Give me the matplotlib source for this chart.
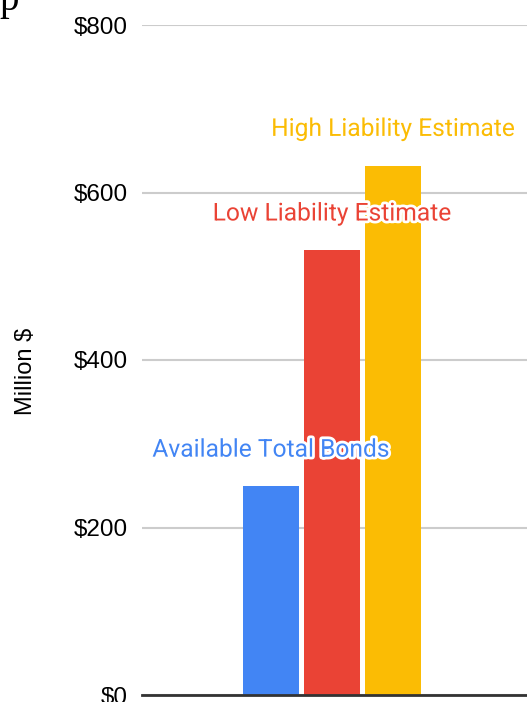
import matplotlib.pyplot as plt
import matplotlib.patheffects as pe
import numpy as np

categories = ['Available Total Bonds', 'Low Liability Estimate', 'High Liability Estimate']
values = [249, 531, 632]
colors = ['#4285F4', '#EA4335', '#FBBC04']
yticks = [0, 200, 400, 600, 800]
ytick_labels = ['$0', '$200', '$400', '$600', '$800']

W, H = 527, 702
fig = plt.figure(figsize=(W / 100, H / 100), dpi=100)
ax = fig.add_axes([142 / W, 7 / H, 1 - 142 / W, (695 - 25) / H])

x = np.arange(len(values))
ax.bar(x, values, width=0.92, color=colors, zorder=3)

for xi, v, lab, c in zip(x, values, categories, colors):
    ax.annotate(lab, (xi, v), xytext=(0, 26.5), textcoords='offset points',
                ha='center', va='center', fontsize=17.7, color=c,
                family='Roboto', zorder=5,
                path_effects=[pe.withStroke(linewidth=4, foreground='white')])

ax.set_xlim(-2.115, 4.2)
ax.set_ylim(0, 800)
ax.set_yticks(yticks)
ax.set_yticklabels(ytick_labels, fontsize=17.5, family='Liberation Sans')
ax.set_xticks([])
ax.tick_params(axis='y', length=0, pad=10)
ax.grid(axis='y', color='#cccccc', linewidth=1.5, zorder=0)
for s in ['top', 'right', 'left']:
    ax.spines[s].set_visible(False)
ax.spines['bottom'].set_color('#333333')
ax.spines['bottom'].set_linewidth(2)
ax.spines['bottom'].set_zorder(4)

fig.text(26 / W, 1 - 371 / H, 'Million $', rotation=90, ha='center', va='center',
         fontsize=17, family='Liberation Sans')
fig.text(-1 / W, 1 - 10 / H, 'p', ha='left', va='baseline', fontsize=28,
         family='Liberation Serif')

fig.savefig('out.png', dpi=100)
